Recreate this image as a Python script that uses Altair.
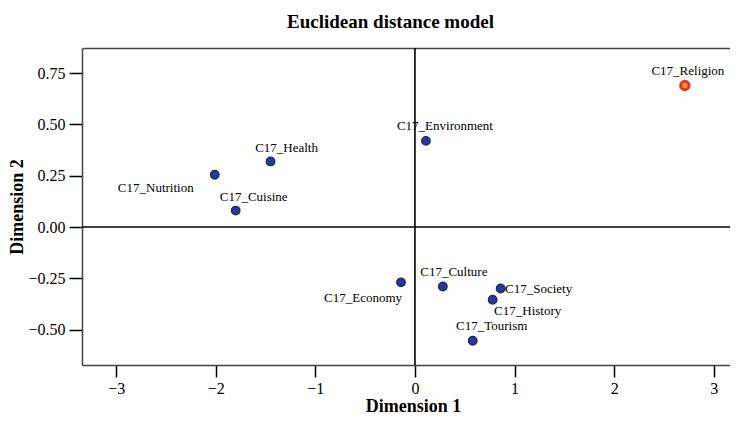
import altair as alt
import pandas as pd

names = ["C17_Religion", "C17_Environment", "C17_Health", "C17_Nutrition", "C17_Cuisine",
         "C17_Economy", "C17_Culture", "C17_Society", "C17_History", "C17_Tourism"]
dim1 = [2.71, 0.11, -1.45, -2.01, -1.80, -0.14, 0.28, 0.86, 0.78, 0.58]
dim2 = [0.69, 0.42, 0.32, 0.255, 0.08, -0.27, -0.29, -0.30, -0.355, -0.555]
group = ["highlight"] + ["normal"] * 9
label_dx = [3, 19, 16, -59, 18, -38, 11, 38, 35, 19]
label_dy = [-15, -15, -13, 13, -14, 16, -14, 0, 11, -15]

x_ticks = [-3, -2, -1, 0, 1, 2, 3]
y_ticks = [-0.5, -0.25, 0.0, 0.25, 0.5, 0.75]
chart_title = "Euclidean distance model"

df = pd.DataFrame({"name": names, "d1": dim1, "d2": dim2, "group": group})

FONT = "Liberation Serif"
xscale = alt.Scale(domain=[-3.343, 3.163], nice=False, zero=False)
yscale = alt.Scale(domain=[-0.673, 0.873], nice=False, zero=False)

xaxis = alt.Axis(orient="bottom", values=x_ticks, format="d", grid=False, tickSize=12,
                 tickWidth=1.5, tickColor="black", domainColor="#444", domainWidth=1.5,
                 labelFont=FONT, labelFontSize=16, labelColor="black", labelPadding=3,
                 title="Dimension 1", titleFont=FONT, titleFontSize=18, titleFontWeight="bold",
                 titleColor="black", titleY=46, titleX=331, titleBaseline="alphabetic")
yaxis = alt.Axis(values=y_ticks, format=".2f", grid=False, tickSize=13, tickWidth=1.5,
                 tickColor="black", domainColor="#444", domainWidth=1.5,
                 labelFont=FONT, labelFontSize=16, labelColor="black", labelPadding=4,
                 title="Dimension 2", titleFont=FONT, titleFontSize=18, titleFontWeight="bold",
                 titleColor="black", titleX=-65, titleBaseline="middle")
top_axis = alt.Axis(orient="top", labels=False, ticks=False, grid=False,
                    domainColor="#444", domainWidth=1.5,
                    title=chart_title, titleFont=FONT, titleFontSize=19, titleFontWeight="bold",
                    titleColor="black", titleX=308, titleY=-21, titleBaseline="alphabetic",
                    titleAlign="center")

points = alt.Chart(df).mark_circle(size=70, opacity=1).encode(
    x=alt.X("d1:Q", scale=xscale, axis=xaxis),
    y=alt.Y("d2:Q", scale=yscale, axis=yaxis),
    fill=alt.Fill("group:N", scale=alt.Scale(domain=["normal", "highlight"],
                                             range=["#2b3a91", "#f7a21b"]), legend=None),
    stroke=alt.Stroke("group:N", scale=alt.Scale(domain=["normal", "highlight"],
                                                 range=["#1c2670", "#ea3326"]), legend=None),
    strokeWidth=alt.StrokeWidth("group:N", scale=alt.Scale(domain=["normal", "highlight"],
                                                           range=[1.5, 3]), legend=None),
)

vline = alt.Chart(pd.DataFrame({"v": [0]})).mark_rule(color="black", strokeWidth=1.6).encode(
    x=alt.X("v:Q", scale=xscale, axis=top_axis))
hline = alt.Chart(pd.DataFrame({"v": [0]})).mark_rule(color="black", strokeWidth=1.6).encode(
    y=alt.Y("v:Q", scale=yscale, axis=yaxis))

labels = []
for i, n in enumerate(names):
    labels.append(
        alt.Chart(df.iloc[[i]]).mark_text(font=FONT, fontSize=13, color="black",
                                         align="center", baseline="middle",
                                         dx=label_dx[i], dy=label_dy[i]).encode(
            x=alt.X("d1:Q", scale=xscale, axis=None),
            y=alt.Y("d2:Q", scale=yscale, axis=yaxis),
            text="name:N")
    )

chart = alt.layer(points, vline, hline, *labels).resolve_axis(x="independent").properties(
    width=648, height=317,
    autosize=alt.AutoSizeParams(type="none"),
    padding={"left": 74, "top": 40, "right": 0, "bottom": 51},
).configure_view(stroke=None)

chart.save("out.html", embed_options={"renderer": "svg", "actions": False})
